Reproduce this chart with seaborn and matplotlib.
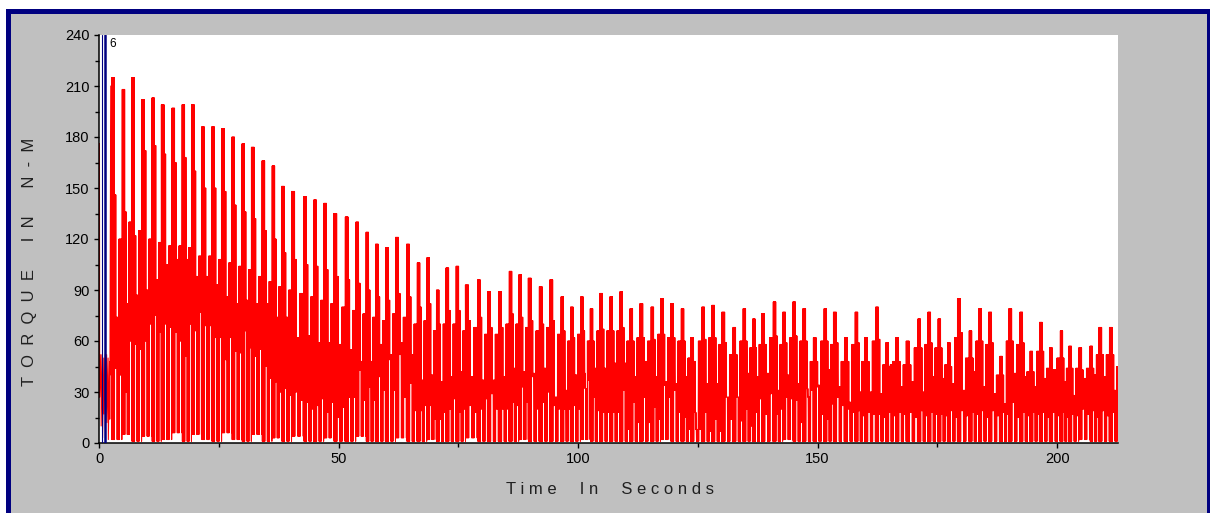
import numpy as np
import pandas as pd
import matplotlib
matplotlib.use("Agg")
import matplotlib.pyplot as plt
import seaborn as sns
from matplotlib.patches import Rectangle
from matplotlib.ticker import MultipleLocator

# ---------------- data ----------------
# time (s) of each torque peak and its height (N-m)
peak_t = [2.9, 5.1, 7.1, 9.2, 11.3, 13.3, 15.5, 17.6, 19.6, 21.7,
          23.8, 25.9, 28.0, 30.1, 32.1, 34.3, 36.4, 38.4, 40.5, 43.0,
          45.1, 47.2, 49.3, 51.7, 53.9, 56.0, 58.0, 60.1, 62.2, 64.5,
          66.7, 68.7, 70.7, 72.7, 74.8, 76.8, 79.3, 81.4, 83.7, 85.9,
          87.9, 89.9, 92.2, 94.4, 96.7, 98.7, 100.8, 102.8, 104.8, 106.9,
          109.0, 111.1, 113.2, 115.5, 117.5, 119.6, 121.8, 123.8, 126.1, 128.2,
          130.3, 132.6, 134.7, 136.7, 138.6, 141.0, 143.0, 145.1, 147.2, 149.4,
          151.6, 153.6, 155.9, 158.1, 160.1, 162.4, 164.5, 166.6, 168.8, 171.2,
          173.3, 175.4, 177.4, 179.5, 181.9, 183.9, 186.0, 188.3, 190.2, 192.5,
          194.6, 196.6, 198.7, 200.9, 202.7, 204.8, 207.1, 209.0, 211.2]
peak_v = [215, 208, 215, 202, 203, 199, 197, 199, 199, 186,
          186, 185, 180, 176, 174, 166, 163, 151, 148, 145,
          143, 141, 135, 133, 130, 124, 117, 115, 121, 117,
          106, 109, 90, 103, 104, 93, 96, 89, 89, 101,
          99, 97, 92, 96, 86, 80, 86, 79, 88, 86,
          89, 79, 82, 80, 85, 82, 79, 62, 80, 81,
          77, 68, 79, 73, 76, 83, 77, 83, 79, 62,
          79, 77, 62, 77, 62, 80, 59, 62, 60, 73,
          77, 73, 59, 85, 66, 79, 77, 51, 79, 77,
          54, 71, 56, 66, 57, 56, 57, 68, 68]
# level of the step right after each peak
shoulder_v = [146, 136, 122, 172, 175, 170, 165, 168, 160, 150,
              150, 148, 140, 136, 132, 125, 120, 112, 108, 105,
              104, 102, 98, 96, 94, 90, 86, 84, 88, 86,
              80, 82, 70, 78, 78, 72, 74, 68, 68, 76,
              74, 72, 70, 72, 66, 62, 66, 60, 67, 66,
              68, 60, 62, 61, 64, 62, 60, 48, 61, 62,
              59, 52, 60, 56, 58, 63, 59, 63, 60, 48,
              60, 59, 48, 59, 48, 61, 45, 48, 46, 56,
              59, 56, 45, 65, 50, 60, 59, 40, 60, 59,
              42, 54, 43, 50, 44, 43, 44, 52, 52]
# top of the dense band (lowest point of the gap between peaks)
band_top = [74, 82, 87, 90, 96, 105, 108, 108, 98, 98,
            93, 86, 82, 84, 82, 82, 74, 74, 62, 63,
            59, 59, 58, 55, 48, 48, 58, 52, 59, 52,
            37, 40, 36, 39, 42, 39, 37, 37, 39, 44,
            42, 41, 44, 27, 31, 40, 32, 44, 44, 47,
            47, 39, 48, 39, 36, 35, 39, 8, 35, 35,
            27, 27, 41, 39, 41, 31, 40, 35, 27, 34,
            43, 33, 24, 30, 30, 29, 46, 33, 36, 30,
            39, 38, 35, 31, 42, 33, 29, 23, 41, 39,
            33, 38, 43, 36, 28, 38, 40, 39, 31]
# column standing just before the next peak
pre_peak = [120, 130, 125, 120, 118, 116, 116, 115, 110, 110,
            108, 106, 104, 102, 98, 95, 92, 90, 88, 86,
            84, 82, 80, 78, 76, 74, 72, 76, 74, 70,
            72, 66, 70, 70, 66, 68, 64, 64, 70, 70,
            68, 66, 68, 64, 60, 64, 60, 66, 66, 66,
            60, 62, 60, 64, 62, 60, 50, 60, 62, 58,
            52, 60, 56, 58, 62, 58, 62, 60, 48, 60,
            58, 48, 58, 48, 60, 46, 48, 46, 56, 58,
            56, 46, 62, 50, 60, 58, 40, 60, 58, 42,
            54, 44, 50, 44, 44, 44, 52, 52, 45]
# lowest torque in each cycle
low_v = [2, 5, 1, 4, 1, 2, 6, 1, 5, 2,
         1, 6, 2, 1, 5, 1, 3, 1, 4, 1,
         1, 3, 1, 1, 4, 1, 1, 1, 3, 1,
         1, 2, 1, 1, 1, 3, 1, 1, 1, 1,
         2, 1, 1, 1, 1, 1, 2, 1, 1, 1,
         1, 1, 1, 1, 2, 1, 1, 1, 1, 1,
         1, 1, 1, 1, 1, 1, 2, 1, 1, 1,
         1, 1, 1, 1, 1, 1, 1, 1, 1, 1,
         1, 1, 1, 1, 1, 1, 1, 1, 1, 1,
         1, 1, 1, 1, 1, 2, 1, 1, 1]
# two local minima per cycle that stay above zero (white slits at the bottom)
slit_a = [44, 30, 58, 60, 75, 70, 65,
          51, 66, 69, 62, 49, 54, 66, 51,
          45, 36, 32, 30, 24, 22, 18,
          15, 27, 43, 33, 39, 49, 52, 35, 19, 22, 14, 20, 18, 22, 20, 29, 20, 24,
          33, 39, 24, 22, 20, 22, 41,
          27, 18, 18, 31, 24, 27, 21, 34, 31, 15, 18, 18, 14, 27, 27, 20, 18, 17,
          17, 27, 25, 32, 33, 14, 27, 20,
          19, 18, 17, 18, 18, 18, 19, 18, 17, 19, 19, 18, 19, 19, 18, 24, 18, 18,
          18, 18, 18, 17, 20, 19, 19, 18]
slit_b = [40, 60, 55, 70, 65, 68, 60,
          70, 77, 69, 62, 62, 53, 56, 55,
          38, 30, 28, 25, 20, 26, 24,
          21, 27, 25, 25, 31, 31, 27, 19, 22, 14, 18, 26, 20, 18, 26, 20, 20, 22,
          24, 20, 30, 20, 20, 20, 37,
          19, 18, 18, 8, 12, 12, 14, 27, 18, 8, 8, 7, 7, 14, 13, 10, 26, 29,
          20, 26, 12, 31, 17, 23, 22, 18,
          16, 17, 15, 16, 17, 15, 16, 17, 16, 15, 16, 17, 15, 16, 17, 15, 16, 17,
          15, 16, 15, 16, 17, 15, 16, 15]
# the first seconds, before the first peak
start_t = [0.0, 0.1, 0.4, 0.7, 1.0, 1.3, 1.6, 1.9, 2.2, 2.45]
start_upper = [176, 176, 52, 52, 50, 52, 52, 50, 48, 210]
start_lower = [27, 27, 10, 3, 17, 9, 12, 2, 14, 40]

x_ticks = [0, 50, 100, 150, 200]
y_ticks = [0, 30, 60, 90, 120, 150, 180, 210, 240]

# ---------------- build the sampled torque trace ----------------
up_keys = ["P"] * 6 + ["S"] * 3 + ["M"] * 5 + ["R"] * 6
lo_keys = ["L"] * 6 + ["A"] * 4 + ["L"] * 5 + ["B"] * 4 + ["L"]
times, torque = [], []
for t, u, l in zip(start_t, start_upper, start_lower):
    times += [t, t + 0.05]
    torque += [u, l]
n = len(peak_t)
for i in range(n):
    period = (peak_t[i + 1] - peak_t[i]) if i < n - 1 else (peak_t[i] - peak_t[i - 1])
    dt = period / 20.0
    t0 = peak_t[i] - 2.5 * dt
    lv = {"P": peak_v[i], "S": shoulder_v[i], "M": band_top[i], "R": pre_peak[i],
          "L": low_v[i], "A": slit_a[i], "B": slit_b[i]}
    for k in range(20):
        times += [t0 + k * dt, t0 + (k + 0.5) * dt]
        torque += [lv[up_keys[k]], lv[lo_keys[k]]]
df = pd.DataFrame({"time_s": times, "torque": torque})

# ---------------- figure ----------------
sns.set_theme(style="ticks")
plt.rcParams["font.family"] = ["Liberation Sans", "DejaVu Sans"]

W, H = 1210, 513
fig = plt.figure(figsize=(W / 100, H / 100), dpi=100)
fig.patch.set_facecolor("white")
frame = Rectangle((8 / W, -0.05), (1208.5 - 8) / W, 1 - 10.5 / H + 0.05,
                  transform=fig.transFigure, facecolor="#C0C0C0",
                  edgecolor="#000080", linewidth=3.6, zorder=-10)
fig.add_artist(frame)

ax = fig.add_axes([99 / W, 1 - 443 / H, 1019 / W, 408 / H])
ax.set_facecolor("white")

sns.lineplot(data=df, x="time_s", y="torque", sort=False, estimator=None,
             color="#FF0000", linewidth=0.75, ax=ax, legend=False)

ax.set_xlim(0, 212.7)
ax.set_ylim(0, 240)
ax.set_xticks(x_ticks)
ax.set_yticks(y_ticks)
ax.xaxis.set_minor_locator(MultipleLocator(25))
ax.yaxis.set_minor_locator(MultipleLocator(15))
ax.tick_params(which="major", length=3.8, width=1.0, direction="out",
               labelsize=10.5, colors="black", pad=3)
ax.tick_params(which="minor", length=3.0, width=1.0, direction="out", colors="black")
for s in ["top", "right"]:
    ax.spines[s].set_visible(False)
for s in ["left", "bottom"]:
    ax.spines[s].set_color("black")
    ax.spines[s].set_linewidth(1.1)
ax.set_xlabel("")
ax.set_ylabel("")

# cursor marker
ax.axvline(0.55, color="#000080", linewidth=0.8, zorder=5)
ax.axvline(1.35, color="#000080", linewidth=1.8, zorder=5)
ax.text(2.2, 238.5, "6", fontsize=8.5, va="top", ha="left", color="black", zorder=6)

fig.text(30 / W, 1 - 262 / H, "T  O  R  Q  U  E      I  N      N  -  M",
         rotation=90, ha="center", va="center", fontsize=12, color="#202020")
fig.text(610 / W, 1 - 490 / H, "T i m e     I n     S e c o n d s",
         ha="center", va="center", fontsize=12, color="#202020")

fig.savefig("out.png", dpi=100, facecolor=fig.get_facecolor())
